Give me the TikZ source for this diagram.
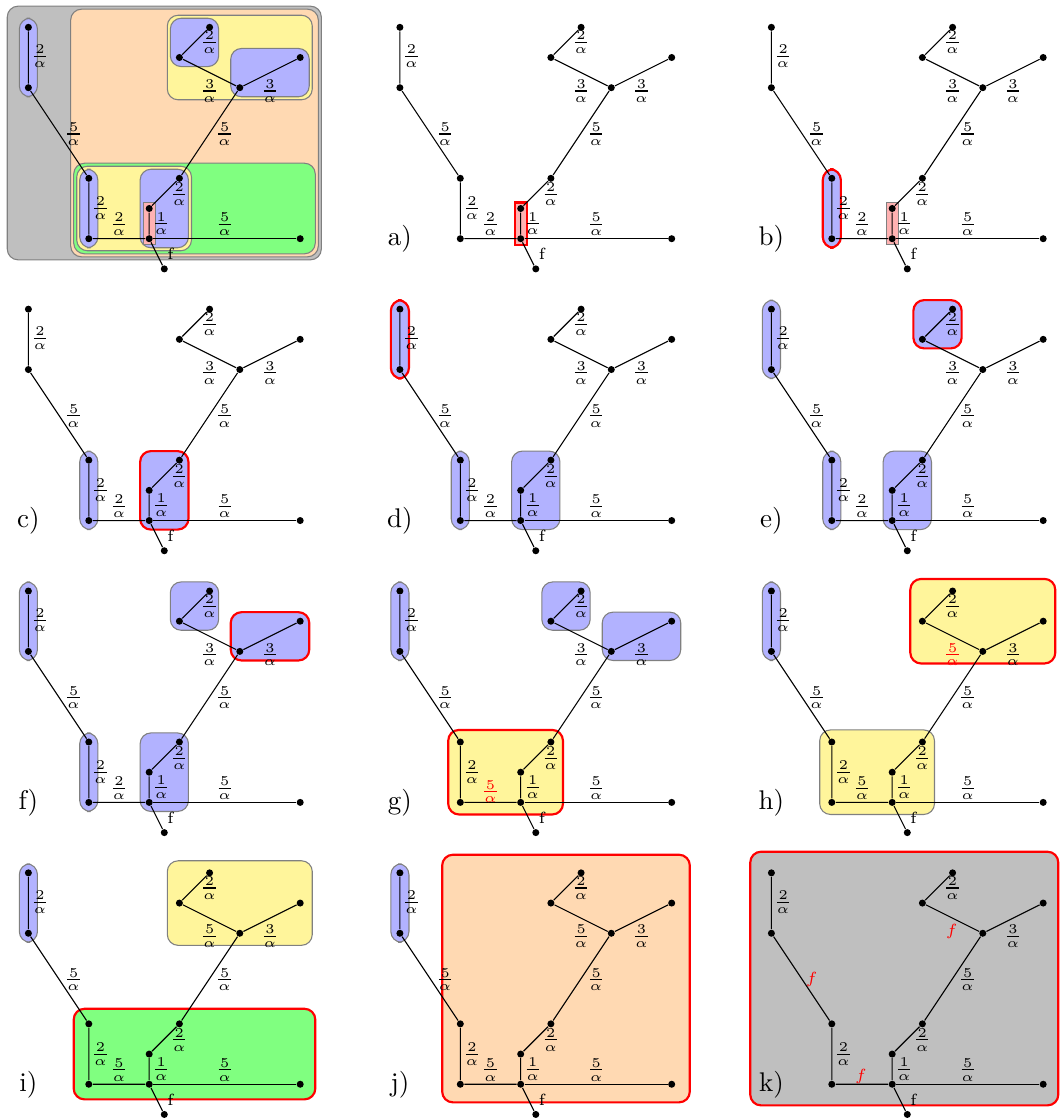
\documentclass[tikz,border=0pt]{standalone}
\definecolor{cyel}{RGB}{255,245,155}
\colorlet{cblue}{blue!30}
\colorlet{cgreen}{green!50}
\colorlet{corange}{orange!30}
\definecolor{cgray}{RGB}{191,191,191}
\colorlet{cpink}{red!30}
\tikzset{
 dot/.style={circle, fill=black, draw=none, inner sep=0pt, minimum size=2.6pt},
 lab/.style={font=\scriptsize, inner sep=0pt},
 rootlab/.style={font=\fontsize{6}{7}\selectfont, inner sep=0pt},
 plab/.style={font=\normalsize, inner sep=0pt},
 grp/.style={draw=gray, line width=0.4pt, rounded corners=4pt},
 hl/.style={draw=red, line width=0.8pt},
 bluebox/.style={grp, fill=cblue},
 pinkbox/.style={draw=gray, line width=0.4pt, fill=cpink},
 yelbox/.style={grp, fill=cyel},
 greenbox/.style={grp, fill=cgreen},
 orangebox/.style={grp, fill=corange},
 graybox/.style={grp, fill=cgray},
 panel/.style 2 args={shift={(#1,#2)}, x=11.186pt, y=-11.186pt},
}
\newcommand\fr[1]{$\frac{#1}{\alpha}$}
\newcommand\rfr[1]{\textcolor{red}{$\frac{#1}{\alpha}$}}
\newcommand\rf{\textcolor{red}{\fontsize{6}{7}\selectfont$f$}}
\newcommand\bxAB[1][]{\draw[bluebox,#1] (-0.3,-0.3) rectangle (0.3,2.3);}
\newcommand\bxCD[1][]{\draw[bluebox,#1] (1.7,4.7) rectangle (2.3,7.3);}
\newcommand\bxEF[1][]{\draw[pinkbox,#1] (3.8,5.8) rectangle (4.2,7.2);}
\newcommand\bxFG[1][]{\draw[bluebox,#1] (3.7,4.7) rectangle (5.3,7.3);}
\newcommand\bxIJ[1][]{\draw[bluebox,#1] (4.7,-0.3) rectangle (6.3,1.3);}
\newcommand\bxHK[1][]{\draw[bluebox,#1] (6.7,0.7) rectangle (9.3,2.3);}
\newcommand\bxYB[1][]{\draw[yelbox,#1] (1.6,4.6) rectangle (5.4,7.4);}
\newcommand\bxYT[1][]{\draw[yelbox,#1] (4.6,-0.4) rectangle (9.4,2.4);}
\newcommand\bxGR[1][]{\draw[greenbox,#1] (1.5,4.5) rectangle (9.5,7.5);}
\newcommand\bxOR[1][]{\draw[orangebox,#1] (1.4,-0.6) rectangle (9.6,7.6);}
\newcommand\bxGY[1][]{\draw[graybox,#1] (-0.7,-0.7) rectangle (9.7,7.7);}
\newcommand\drawtree[7]{%
 \node[dot] (#1A) at (0,0) {};
 \node[dot] (#1B) at (0,2) {};
 \node[dot] (#1C) at (2,5) {};
 \node[dot] (#1D) at (2,7) {};
 \node[dot] (#1E) at (4,7) {};
 \node[dot] (#1F) at (4,6) {};
 \node[dot] (#1G) at (5,5) {};
 \node[dot] (#1H) at (7,2) {};
 \node[dot] (#1I) at (5,1) {};
 \node[dot] (#1J) at (6,0) {};
 \node[dot] (#1K) at (9,1) {};
 \node[dot] (#1L) at (9,7) {};
 \node[dot] (#1M) at (4.5,8) {};
 \draw (#1A) -- (#1B) -- (#1C) -- (#1D) -- (#1E) -- (#1F) -- (#1G) -- (#1H) -- (#1I) -- (#1J);
 \draw (#1H) -- (#1K);
 \draw (#1E) -- (#1L);
 \draw (#1E) -- (#1M);
 \path (#1A) -- (#1B) node[lab, midway, xshift=4.33pt, yshift=0.37pt] (#1lAB) {\fr2};
 \path (#1B) -- (#1C) node[lab, midway, xshift=5.56pt, yshift=-0.37pt, #2] (#1lBC) {#3};
 \path (#1C) -- (#1D) node[lab, midway, xshift=4.33pt] (#1lCD) {\fr2};
 \path (#1D) -- (#1E) node[lab, midway, yshift=5.3pt, #4] (#1lDE) {#5};
 \path (#1E) -- (#1F) node[lab, midway, xshift=4.44pt] (#1lEF) {\fr1};
 \path (#1F) -- (#1G) node[lab, midway, xshift=5.56pt, yshift=-0.37pt] (#1lFG) {\fr2};
 \path (#1G) -- (#1H) node[lab, midway, xshift=5.56pt, yshift=-0.37pt] (#1lGH) {\fr5};
 \path (#1H) -- (#1I) node[lab, midway, yshift=-6.8pt, #6] (#1lHI) {#7};
 \path (#1I) -- (#1J) node[lab, midway, xshift=5.56pt] (#1lIJ) {\fr2};
 \path (#1H) -- (#1K) node[lab, midway, yshift=-6.8pt] (#1lHK) {\fr3};
 \path (#1E) -- (#1L) node[lab, midway, yshift=5.3pt] (#1lEL) {\fr5};
 \path (#1E) -- (#1M) node[rootlab, midway, xshift=5.07pt] (#1lEM) {f};
}
\begin{document}
\begin{tikzpicture}[x=0.3704pt, y=-0.3704pt, line width=0.4pt]
\useasboundingbox (0,0) rectangle (1060,1119);
% summary panel
\begin{scope}[panel={28.4}{27.3}]
\bxGY \bxOR \bxYT \bxIJ \bxHK \bxGR \bxYB \bxCD \bxFG \bxEF \bxAB
\drawtree{p}{}{\fr5}{}{\fr2}{}{\fr3}
\end{scope}
% a)
\begin{scope}[panel={399.9}{27.3}]
\bxEF[hl]
\drawtree{a}{}{\fr5}{}{\fr2}{}{\fr3}
\node[plab] (alab) at (0,7) {a)};
\end{scope}
% b)
\begin{scope}[panel={771.4}{27.3}]
\bxEF \bxCD[hl]
\drawtree{b}{}{\fr5}{}{\fr2}{}{\fr3}
\node[plab] (blab) at (0,7) {b)};
\end{scope}
% c)
\begin{scope}[panel={28.4}{309.15}]
\bxCD \bxFG[hl]
\drawtree{c}{}{\fr5}{}{\fr2}{}{\fr3}
\node[plab] (clab) at (0,7) {c)};
\end{scope}
% d)
\begin{scope}[panel={399.9}{309.15}]
\bxCD \bxFG \bxAB[hl]
\drawtree{d}{}{\fr5}{}{\fr2}{}{\fr3}
\node[plab] (dlab) at (0,7) {d)};
\end{scope}
% e)
\begin{scope}[panel={771.4}{309.15}]
\bxAB \bxCD \bxFG \bxIJ[hl]
\drawtree{e}{}{\fr5}{}{\fr2}{}{\fr3}
\node[plab] (elab) at (0,7) {e)};
\end{scope}
% f)
\begin{scope}[panel={28.4}{591}]
\bxAB \bxCD \bxFG \bxIJ \bxHK[hl]
\drawtree{f}{}{\fr5}{}{\fr2}{}{\fr3}
\node[plab] (flab) at (0,7) {f)};
\end{scope}
% g)
\begin{scope}[panel={399.9}{591}]
\bxAB \bxIJ \bxHK \bxYB[hl]
\drawtree{g}{}{\fr5}{yshift=-1.3pt}{\rfr5}{}{\fr3}
\node[plab] (glab) at (0,7) {g)};
\end{scope}
% h)
\begin{scope}[panel={771.4}{591}]
\bxAB \bxYB \bxYT[hl]
\drawtree{h}{}{\fr5}{}{\fr5}{}{\rfr5}
\node[plab] (hlab) at (0,7) {h)};
\end{scope}
% i)
\begin{scope}[panel={28.4}{872.85}]
\bxAB \bxYT \bxGR[hl]
\drawtree{i}{}{\fr5}{}{\fr5}{}{\fr5}
\node[plab] (ilab) at (0,7) {i)};
\end{scope}
% j)
\begin{scope}[panel={399.9}{872.85}]
\bxAB \bxOR[hl]
\drawtree{j}{}{\fr5}{}{\fr5}{}{\fr5}
\node[plab] (jlab) at (0,7) {j)};
\end{scope}
% k)
\begin{scope}[panel={771.4}{872.85}]
\draw[graybox, hl] (-0.7,-0.7) rectangle (9.5,7.7);
\drawtree{k}{xshift=-1.86pt}{\rf}{yshift=-2.3pt, xshift=-0.37pt}{\rf}{yshift=1.8pt, xshift=-0.37pt}{\rf}
\node[plab] (klab) at (0,7) {k)};
\end{scope}
\end{tikzpicture}
\end{document}
